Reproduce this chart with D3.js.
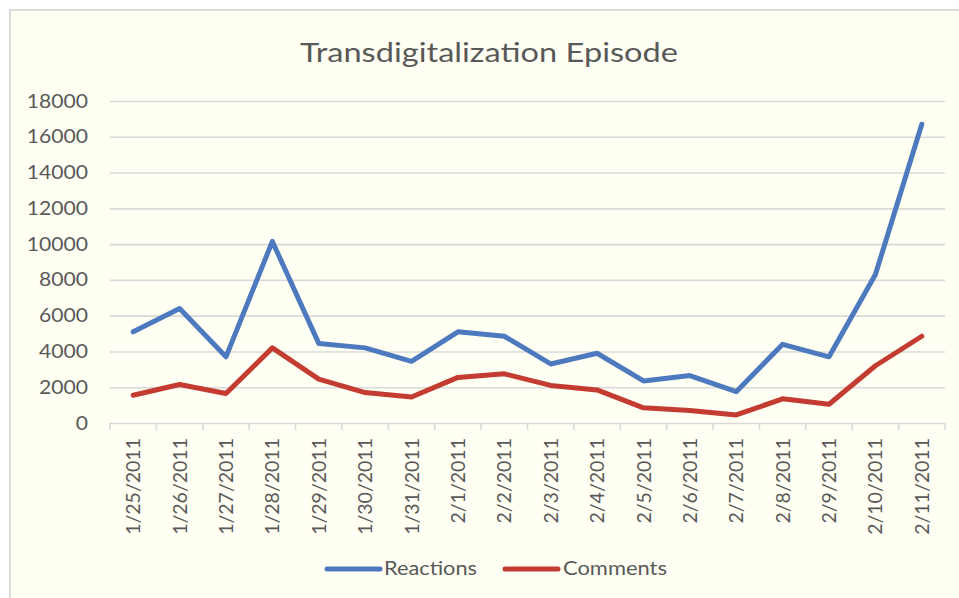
<!DOCTYPE html>
<html>
<head>
<meta charset="utf-8">
<script src="https://cdn.jsdelivr.net/npm/d3@7"></script>
<style>
  html, body { margin: 0; padding: 0; background: #ffffff; }
  svg { display: block; }
  text { font-family: Lato, "Open Sans", "DejaVu Sans", sans-serif; fill: #595959; }
</style>
</head>
<body>
<svg id="chart" width="959" height="598"></svg>
<script>
const categories = ["1/25/2011","1/26/2011","1/27/2011","1/28/2011","1/29/2011","1/30/2011","1/31/2011","2/1/2011","2/2/2011","2/3/2011","2/4/2011","2/5/2011","2/6/2011","2/7/2011","2/8/2011","2/9/2011","2/10/2011","2/11/2011"];
const reactions = [5100, 6400, 3700, 10150, 4450, 4200, 3450, 5100, 4850, 3300, 3900, 2350, 2650, 1750, 4400, 3700, 8300, 16700];
const comments  = [1550, 2150, 1650, 4200, 2450, 1700, 1450, 2550, 2750, 2100, 1850, 850, 700, 450, 1350, 1050, 3200, 4850];
const yTicks = [0, 2000, 4000, 6000, 8000, 10000, 12000, 14000, 16000, 18000];
const seriesNames = ["Reactions", "Comments"];
const seriesColors = ["#4d7abf", "#c33b31"];
const title = "Transdigitalization Episode";

(function () {
const svg = d3.select("#chart");
const W = 959, H = 598;
const pLeft = 110, pRight = 945, pTop = 101, pBottom = 423;
const stretch = 1.11;

svg.append("rect").attr("x", 10).attr("y", 10).attr("width", W + 20).attr("height", H + 20)
  .attr("fill", "#fffff3").attr("stroke", "#dcdcdc").attr("stroke-width", 2);

const x = d3.scaleBand().domain(categories).range([pLeft, pRight]).padding(0);
const y = d3.scaleLinear().domain([0, 18000]).range([pBottom, pTop]);

const grid = svg.append("g").attr("transform", `translate(${pLeft},0)`)
  .call(d3.axisLeft(y).tickValues(yTicks).tickSize(-(pRight - pLeft)).tickFormat(""));
grid.select(".domain").remove();
grid.selectAll("line").attr("stroke", "#d9d9d9").attr("stroke-width", 1.6);

const yAxis = svg.append("g").attr("transform", `translate(88,0)`)
  .call(d3.axisLeft(y).tickValues(yTicks).tickSize(0).tickPadding(0).tickFormat(d3.format("d")));
yAxis.select(".domain").remove();
yAxis.selectAll("text").attr("font-size", 19).attr("fill", "#595959")
  .style("font-family", "Lato, sans-serif")
  .each(function () {
    const w = this.getComputedTextLength();
    d3.select(this).attr("textLength", w * stretch).attr("lengthAdjust", "spacingAndGlyphs");
  });

const bounds = categories.map(c => x(c)).concat([pRight]);
svg.append("g").selectAll("line").data(bounds).join("line")
  .attr("x1", d => d).attr("x2", d => d).attr("y1", pBottom).attr("y2", pBottom + 7)
  .attr("stroke", "#d9d9d9").attr("stroke-width", 1.6);

const xAxis = svg.append("g").attr("transform", `translate(0,${pBottom})`)
  .call(d3.axisBottom(x).tickSize(0).tickPadding(0));
xAxis.select(".domain").remove();
xAxis.selectAll("text")
  .attr("font-size", 19.5)
  .style("font-family", "Lato, sans-serif")
  .attr("fill", "#595959")
  .attr("text-anchor", "end")
  .attr("transform", "rotate(-90)")
  .attr("x", -15).attr("y", 0).attr("dy", "0.36em");

const line = d3.line().x((d, i) => x(categories[i]) + x.bandwidth() / 2).y(d => y(d));
[reactions, comments].forEach((s, k) => {
  svg.append("path").datum(s).attr("d", line)
    .attr("fill", "none").attr("stroke", seriesColors[k]).attr("stroke-width", 5)
    .attr("stroke-linejoin", "round").attr("stroke-linecap", "round");
});

svg.append("text").attr("x", 489).attr("y", 61.5).attr("text-anchor", "middle")
  .attr("font-size", 26.5).attr("fill", "#404040")
  .attr("textLength", 378).attr("lengthAdjust", "spacingAndGlyphs").text(title);

const legendItems = [
  {name: seriesNames[0], color: seriesColors[0], x0: 327, x1: 380, tx: 384, w: 93},
  {name: seriesNames[1], color: seriesColors[1], x0: 505, x1: 558, tx: 563, w: 104}
];
const lg = svg.append("g");
legendItems.forEach(it => {
  lg.append("line").attr("x1", it.x0).attr("x2", it.x1).attr("y1", 569).attr("y2", 569)
    .attr("stroke", it.color).attr("stroke-width", 5).attr("stroke-linecap", "round");
  lg.append("text").attr("x", it.tx).attr("y", 575).attr("font-size", 19.5)
    .attr("fill", "#595959").attr("textLength", it.w).attr("lengthAdjust", "spacingAndGlyphs")
    .text(it.name);
});
})();
</script>
</body>
</html>
